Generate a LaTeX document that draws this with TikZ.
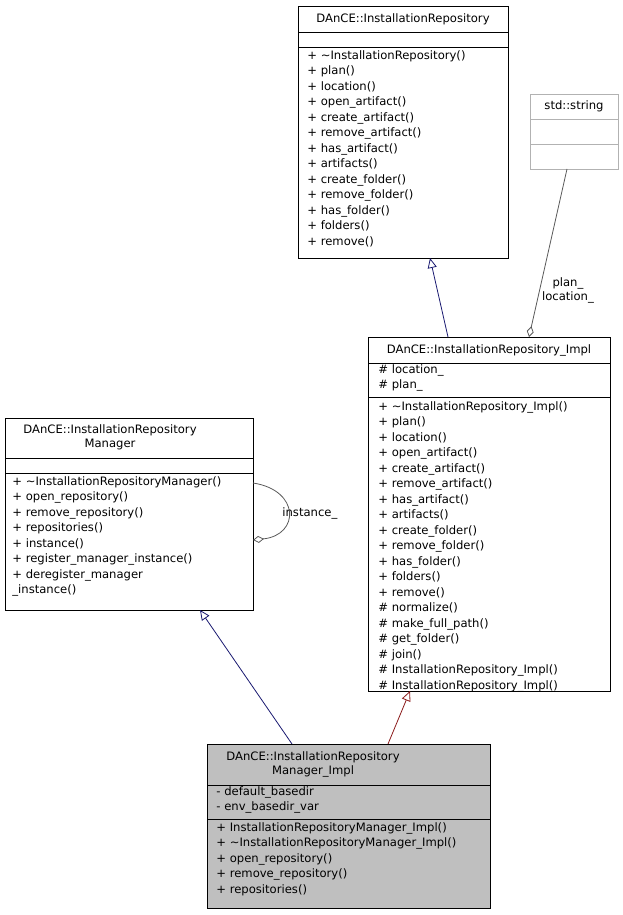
\documentclass[tikz,border=0pt]{standalone}
\usepackage{fontspec}
\setmainfont{DejaVu Sans}
\usetikzlibrary{arrows.meta,positioning}
\definecolor{navyline}{RGB}{25,25,112}
\definecolor{redline}{RGB}{139,26,26}
\definecolor{boxgray}{RGB}{191,191,191}
\tikzset{
  every path/.style={line width=0.8pt},
  cls/.style={draw=black, fill=white, inner sep=0pt, anchor=north west},
  title/.style={font=\fontsize{11.6}{14}\selectfont, align=center, inner sep=0pt},
  members/.style={font=\fontsize{11.6}{15.5}\selectfont, align=left, inner sep=0pt, anchor=north west},
  inherit/.style={-{Triangle[open,length=10pt,width=9pt]}},
  uses/.style={-{Diamond[open,length=11pt,width=7pt]}, draw=gray!70!black}
}
\begin{document}
\begin{tikzpicture}[x=1pt,y=-1pt]
  \useasboundingbox (0,0) rectangle (623,915);

  % InstallationRepository
  \node[cls, minimum width=210pt, minimum height=252pt] (repo) at (298,6) {};
  \draw (298,32) -- (508,32) (298,47) -- (508,47);
  \node[title] (repot) at (403,19) {DAnCE::InstallationRepository};
  \node[members] (repom) at (307,50) {+ \textasciitilde InstallationRepository()\\+ plan()\\+ location()\\+ open\_artifact()\\+ create\_artifact()\\+ remove\_artifact()\\+ has\_artifact()\\+ artifacts()\\+ create\_folder()\\+ remove\_folder()\\+ has\_folder()\\+ folders()\\+ remove()};

  % std::string
  \node[cls, draw=gray!60, minimum width=88pt, minimum height=75pt] (str) at (530,94) {};
  \draw[gray!60] (530,119) -- (618,119) (530,144) -- (618,144);
  \node[title] (strt) at (574,106) {std::string};

  % InstallationRepository_Impl
  \node[cls, minimum width=242pt, minimum height=354pt] (impl) at (368,337) {};
  \draw (368,363) -- (610,363) (368,397) -- (610,397);
  \node[title] (implt) at (489,350) {DAnCE::InstallationRepository\_Impl};
  \node[members] (impla) at (378,364) {\# location\_\\\# plan\_};
  \node[members] (implm) at (378,401) {+ \textasciitilde InstallationRepository\_Impl()\\+ plan()\\+ location()\\+ open\_artifact()\\+ create\_artifact()\\+ remove\_artifact()\\+ has\_artifact()\\+ artifacts()\\+ create\_folder()\\+ remove\_folder()\\+ has\_folder()\\+ folders()\\+ remove()\\\# normalize()\\\# make\_full\_path()\\\# get\_folder()\\\# join()\\\# InstallationRepository\_Impl()\\\# InstallationRepository\_Impl()};

  % InstallationRepositoryManager
  \node[cls, minimum width=248pt, minimum height=192pt] (mgr) at (5,418) {};
  \draw (5,458) -- (253,458) (5,473) -- (253,473);
  \node[title] (mgrt) at (110,437) {DAnCE::InstallationRepository\\Manager};
  \node[members] (mgrm) at (12,476) {+ \textasciitilde InstallationRepositoryManager()\\+ open\_repository()\\+ remove\_repository()\\+ repositories()\\+ instance()\\+ register\_manager\_instance()\\+ deregister\_manager\\\_instance()};

  % InstallationRepositoryManager_Impl
  \node[cls, fill=boxgray, minimum width=283pt, minimum height=164pt] (mimpl) at (207,744) {};
  \draw (207,785) -- (490,785) (207,819) -- (490,819);
  \node[title] (mimplt) at (313,764) {DAnCE::InstallationRepository\\Manager\_Impl};
  \node[members] (mimpla) at (216,786) {- default\_basedir\\- env\_basedir\_var};
  \node[members] (mimplm) at (216,822) {+ InstallationRepositoryManager\_Impl()\\+ \textasciitilde InstallationRepositoryManager\_Impl()\\+ open\_repository()\\+ remove\_repository()\\+ repositories()};

  % relations
  \coordinate (a1) at (448,337); \coordinate (a2) at (430,258);
  \draw[inherit, navyline] (a1) -- (a2);
  \coordinate (b1) at (567,169); \coordinate (b2) at (529,337);
  \draw[uses] (b1) -- (b2) node[pos=0.72, right=2pt, black, title] {plan\_\\location\_};
  \coordinate (c1) at (253,483); \coordinate (c2) at (253,540);
  \draw[uses] (c1) .. controls (300,490) and (300,535) .. (c2);
  \node[title, anchor=west] (inst) at (282,513) {instance\_};
  \coordinate (d1) at (292,744); \coordinate (d2) at (200,610);
  \draw[inherit, navyline] (d1) -- (d2);
  \coordinate (e1) at (388,744); \coordinate (e2) at (410,691);
  \draw[inherit, redline] (e1) -- (e2);
\end{tikzpicture}
\end{document}
